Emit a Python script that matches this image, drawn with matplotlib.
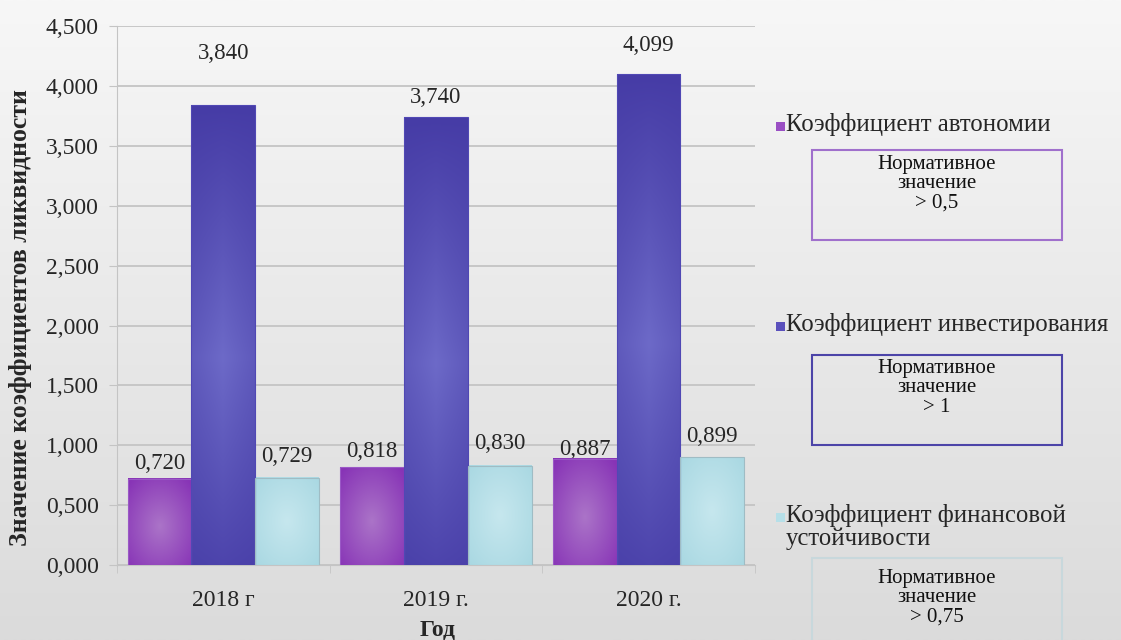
import numpy as np
import matplotlib
matplotlib.use("Agg")
import matplotlib.pyplot as plt
from matplotlib.colors import to_rgb, LinearSegmentedColormap
from matplotlib.patches import Rectangle
from matplotlib.ticker import FuncFormatter

# ── data ──
years = ["2018 г", "2019 г.", "2020 г."]
autonomy = [0.720, 0.818, 0.887]
investment = [3.840, 3.740, 4.099]
stability = [0.729, 0.830, 0.899]

series_names = ["Коэффициент автономии", "Коэффициент инвестирования",
                "Коэффициент финансовой\nустойчивости"]
norm_texts = ["Нормативное\nзначение\n> 0,5", "Нормативное\nзначение\n> 1",
              "Нормативное\nзначение\n> 0,75"]

# ── style ──
PURPLE = "#9a4fc4"; BLUE = "#5a50bc"; CYAN = "#b6dfe8"
BOX_EDGES = ["#a070cc", "#4c44a8", "#c8d8dc"]
TEXT = "#262626"; GRID = "#c4c4c4"
plt.rcParams["font.family"] = ["Liberation Serif", "DejaVu Serif"]


def gradient(kind, ny=120, nx=60):
    """RGB array for a bar fill (rows bottom->top)."""
    v, u = np.mgrid[0:1:ny * 1j, 0:1:nx * 1j]
    if kind == "purple":
        r = np.sqrt(((u - 0.5) / 0.5) ** 2 + ((v - 0.45) / 0.5) ** 2) / np.sqrt(2)
        t = np.clip(1 - r, 0, 1)
        lo, hi = np.array(to_rgb("#8733b6")), np.array(to_rgb("#ab74c8"))
    elif kind == "blue":
        t = np.clip(1 - np.abs(v - 0.45) / 0.55, 0, 1) * (1 - 0.35 * np.abs(u - 0.5) * 2)
        lo, hi = np.array(to_rgb("#463ca6")), np.array(to_rgb("#6d6ac8"))
    else:
        r = np.sqrt(((u - 0.5) / 0.5) ** 2 + ((v - 0.5) / 0.5) ** 2) / np.sqrt(2)
        t = np.clip(1 - r, 0, 1)
        lo, hi = np.array(to_rgb("#a9d8e2")), np.array(to_rgb("#c6e7ee"))
    return lo + (hi - lo) * t[..., None]


fig = plt.figure(figsize=(11.21, 6.4), dpi=100)

# background gradient
bg = fig.add_axes([0, 0, 1, 1], zorder=-10)
grad = np.linspace(0, 1, 256).reshape(-1, 1)
bg.imshow(grad, aspect="auto", cmap=LinearSegmentedColormap.from_list(
    "bg", ["#f7f7f7", "#dbdbdb"]), extent=[0, 1, 0, 1])
bg.set_axis_off()

ax = fig.add_axes([0.1044, 0.117, 0.569, 0.842])
ax.patch.set_alpha(0)

x = np.arange(len(years))
w = 0.30
all_series = [autonomy, investment, stability]
kinds = ["purple", "blue", "cyan"]
colors = [PURPLE, BLUE, CYAN]
edges = ["#9a58c6", "#5048b4", "#9fbcc4"]
# label offsets in points (labels were hand-placed in original)
offs = [[11, 11.5, 6.5], [37, 14.5, 21], [15.5, 16.3, 15.3]]
for i, (vals, k, ec) in enumerate(zip(all_series, kinds, edges)):
    bars = ax.bar(x + (i - 1) * w, vals, w, facecolor="none", edgecolor=ec,
                  linewidth=0.8, zorder=4)
    for j, (b, v) in enumerate(zip(bars, vals)):
        x0 = b.get_x()
        ax.imshow(gradient(k), extent=(x0, x0 + b.get_width(), 0, v), origin="lower",
                  aspect="auto", interpolation="bilinear", zorder=3)
        ax.annotate(f"{v:.3f}".replace(".", ","), (x0 + b.get_width() / 2, v),
                    xytext=(0, offs[i][j]), textcoords="offset points",
                    ha="center", va="center", fontsize=16.5, color=TEXT, zorder=2)

ax.set_xlim(-0.5, 2.5)
ax.set_ylim(0, 4.5)
ax.set_yticks(np.arange(0, 4.51, 0.5))
ax.yaxis.set_major_formatter(FuncFormatter(lambda v, p: f"{v:.3f}".replace(".", ",")))
ax.grid(axis="y", color=GRID, lw=1.3, zorder=0)
ax.set_axisbelow(True)
ax.set_xticks(x)
ax.set_xticklabels(years)
ax.set_xticks([-0.5, 0.5, 1.5, 2.5], minor=True)
ax.tick_params(axis="x", which="major", length=0, pad=18, labelsize=17, labelcolor=TEXT)
ax.tick_params(axis="x", which="minor", length=6, color=GRID)
ax.tick_params(axis="y", length=6, color=GRID, labelsize=17, labelcolor=TEXT, pad=7)
for s in ("top", "right"):
    ax.spines[s].set_visible(False)
ax.spines["left"].set_color(GRID)
ax.spines["bottom"].set_color(GRID)
ax.set_xlabel("Год", fontsize=17, fontweight="bold", color=TEXT)
ax.xaxis.set_label_coords((438 - 117) / 638, -(630 - 565) / 539)
ax.xaxis.label.set_va("center")
ax.set_ylabel("Значение коэффициентов ликвидности", fontsize=18.5, fontweight="bold",
              color=TEXT)
ax.yaxis.set_label_coords((20 - 117) / 638, (565 - 317) / 539)
ax.yaxis.label.set_va("center")

# ── legend with norm boxes (figure pixel coords, y from top) ──
W, H = 1121, 640
leg_y = [126, 326, 517]
box_y = [150, 355, 558]
txt_dy = [34, 33, 40]
for k in range(3):
    fig.patches.append(Rectangle((776 / W, 1 - (leg_y[k] + 5) / H), 9 / W, 9 / H,
                                 transform=fig.transFigure, facecolor=colors[k],
                                 edgecolor="none"))
    fig.text(786 / W, 1 - (leg_y[k] - 13) / H, series_names[k], fontsize=17.8, color=TEXT,
             va="top", ha="left", linespacing=1.05)
    bh = 90
    fig.patches.append(Rectangle((812 / W, 1 - (box_y[k] + bh) / H), 250 / W, bh / H,
                                 transform=fig.transFigure, facecolor="none",
                                 edgecolor=BOX_EDGES[k], linewidth=1.5))
    fig.text(937 / W, 1 - (box_y[k] + txt_dy[k]) / H, norm_texts[k], fontsize=15,
             color="#111111", ha="center", va="center", linespacing=1.0)

fig.savefig("out.png", dpi=100)
